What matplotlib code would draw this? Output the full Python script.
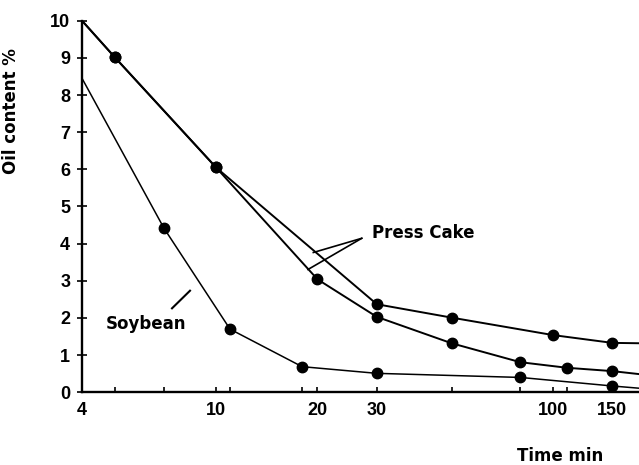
import matplotlib
matplotlib.use("Agg")
import matplotlib.pyplot as plt
from matplotlib.ticker import FixedLocator, NullFormatter, FixedFormatter

# ---- data ----
press_upper_t = [4, 5, 10, 30, 50, 100, 150, 180]
press_upper_y = [10.0, 9.02, 6.05, 2.37, 2.01, 1.54, 1.33, 1.32]

press_lower_t = [4, 5, 10, 20, 30, 50, 80, 110, 150, 180]
press_lower_y = [10.0, 9.02, 6.05, 3.04, 2.03, 1.32, 0.81, 0.66, 0.57, 0.49]

soy_t = [4, 7, 11, 18, 30, 80, 150, 180]
soy_y = [8.45, 4.42, 1.70, 0.69, 0.51, 0.40, 0.17, 0.11]

x_major = [4, 10, 20, 30, 100, 150]
x_major_labels = ["4", "10", "20", "30", "100", "150"]
x_minor = [5, 7, 11, 18, 50, 80, 110]
y_ticks = list(range(0, 11))

W, H = 639, 465
fig = plt.figure(figsize=(W / 100, H / 100), dpi=100)
ax = fig.add_axes([82 / W, (H - 392.3) / H, 557 / W, 371.6 / H])

ax.set_xscale("log")
ax.set_xlim(4, 180)
ax.set_ylim(0, 10)

mk = dict(marker="o", markersize=7.5, color="black", markerfacecolor="black")
ax.plot(press_upper_t, press_upper_y, lw=1.4, markevery=list(range(1, len(press_upper_t) - 1)), clip_on=True, **mk)
ax.plot(press_lower_t, press_lower_y, lw=1.4, markevery=list(range(1, len(press_lower_t) - 1)), clip_on=True, **mk)
ax.plot(soy_t, soy_y, lw=1.1, markevery=list(range(1, len(soy_t) - 1)), clip_on=True, **mk)

for s in ["top", "right"]:
    ax.spines[s].set_visible(False)
for s in ["left", "bottom"]:
    ax.spines[s].set_linewidth(1.7)

tickfont = dict(family="Liberation Sans", weight="bold", size=13)

ax.xaxis.set_major_locator(FixedLocator(x_major))
ax.xaxis.set_major_formatter(FixedFormatter(x_major_labels))
ax.xaxis.set_minor_locator(FixedLocator(x_minor))
ax.xaxis.set_minor_formatter(NullFormatter())
ax.tick_params(axis="x", which="both", direction="in", length=3.8, width=1.2, pad=7)
ax.set_yticks(y_ticks)
ax.tick_params(axis="y", which="major", direction="inout", length=7, width=1.2, pad=5)
for lab in ax.get_xticklabels() + ax.get_yticklabels():
    lab.set_fontfamily("Liberation Sans")
    lab.set_fontweight("bold")
    lab.set_fontsize(13)

txt = dict(family="DejaVu Sans", weight="bold", size=12)

ax.set_ylabel("Oil content %", **txt)
ax.yaxis.set_label_coords(-0.111, 0.757)

ax.text(0.858, -0.171, "Time min", transform=ax.transAxes, ha="center", va="center", **txt)

ax.text(0.5206, 0.430, "Press Cake", transform=ax.transAxes, ha="left", va="center", **txt)
vx, vy = 0.5022, 0.4144
for ex, ey in [(0.4153, 0.3762), (0.4057, 0.3305)]:
    ax.plot([vx, ex], [vy, ey], transform=ax.transAxes, color="black", lw=1.2)

ax.text(0.0431, 0.1825, "Soybean", transform=ax.transAxes, ha="left", va="center", **txt)
ax.plot([0.1616, 0.1939], [0.2260, 0.2734], transform=ax.transAxes, color="black", lw=1.5)

fig.savefig("out.png", dpi=100)
